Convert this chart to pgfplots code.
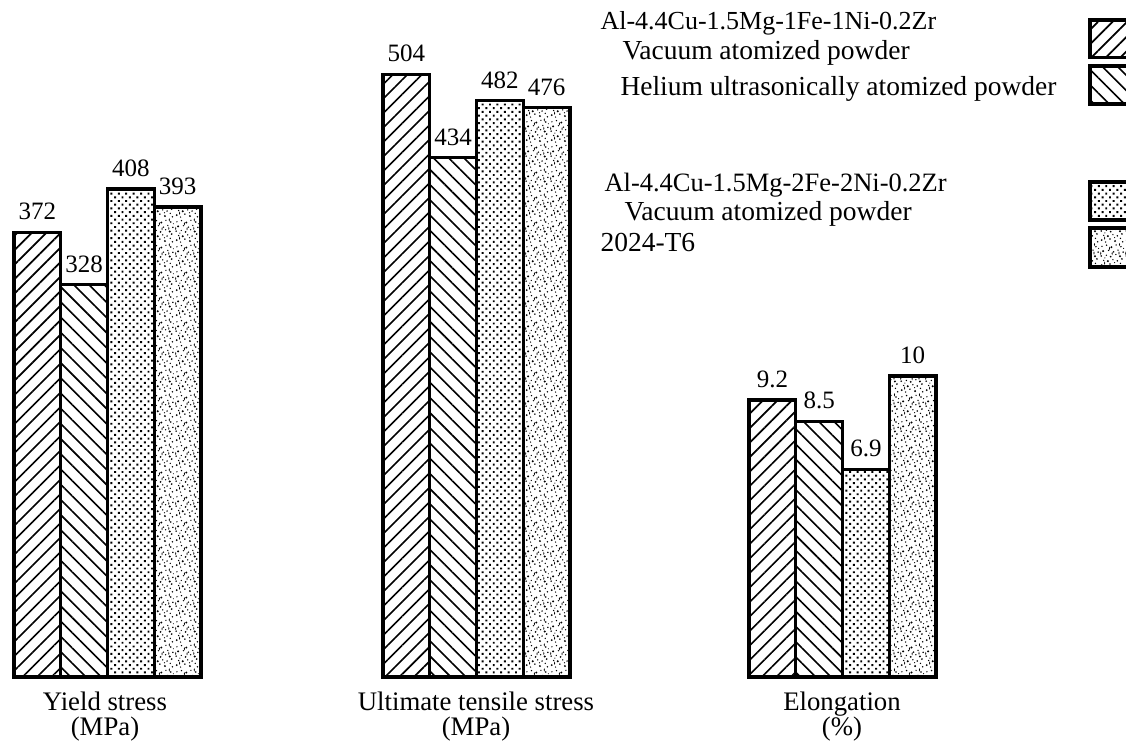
\documentclass[border=0pt]{standalone}
\usepackage{fontspec}
\setmainfont{Liberation Serif}
\usepackage{pgfplots}
\pgfplotsset{compat=1.18}
\usetikzlibrary{patterns,patterns.meta}

\pgfdeclarepatternformonly{stipple}{\pgfpointorigin}{\pgfqpoint{10pt}{10pt}}{\pgfqpoint{10pt}{10pt}}{%
  \pgfpathcircle{\pgfqpoint{0.7pt}{1.2pt}}{0.4pt}
  \pgfpathcircle{\pgfqpoint{2.3pt}{0.4pt}}{0.3pt}
  \pgfpathcircle{\pgfqpoint{4.1pt}{1.6pt}}{0.35pt}
  \pgfpathcircle{\pgfqpoint{6.2pt}{0.8pt}}{0.45pt}
  \pgfpathcircle{\pgfqpoint{8.4pt}{1.9pt}}{0.3pt}
  \pgfpathcircle{\pgfqpoint{9.3pt}{0.5pt}}{0.35pt}
  \pgfpathcircle{\pgfqpoint{1.5pt}{3.1pt}}{0.3pt}
  \pgfpathcircle{\pgfqpoint{3.2pt}{2.8pt}}{0.45pt}
  \pgfpathcircle{\pgfqpoint{5.3pt}{3.4pt}}{0.3pt}
  \pgfpathcircle{\pgfqpoint{7.1pt}{2.9pt}}{0.35pt}
  \pgfpathcircle{\pgfqpoint{9.0pt}{3.7pt}}{0.4pt}
  \pgfpathcircle{\pgfqpoint{0.5pt}{4.9pt}}{0.35pt}
  \pgfpathcircle{\pgfqpoint{2.6pt}{5.2pt}}{0.3pt}
  \pgfpathcircle{\pgfqpoint{4.4pt}{4.6pt}}{0.4pt}
  \pgfpathcircle{\pgfqpoint{6.5pt}{5.5pt}}{0.3pt}
  \pgfpathcircle{\pgfqpoint{8.2pt}{4.8pt}}{0.45pt}
  \pgfpathcircle{\pgfqpoint{1.3pt}{6.9pt}}{0.45pt}
  \pgfpathcircle{\pgfqpoint{3.5pt}{7.2pt}}{0.3pt}
  \pgfpathcircle{\pgfqpoint{5.6pt}{6.6pt}}{0.35pt}
  \pgfpathcircle{\pgfqpoint{7.4pt}{7.3pt}}{0.3pt}
  \pgfpathcircle{\pgfqpoint{9.5pt}{6.5pt}}{0.35pt}
  \pgfpathcircle{\pgfqpoint{0.8pt}{8.8pt}}{0.3pt}
  \pgfpathcircle{\pgfqpoint{2.7pt}{9.3pt}}{0.35pt}
  \pgfpathcircle{\pgfqpoint{4.7pt}{8.5pt}}{0.45pt}
  \pgfpathcircle{\pgfqpoint{6.6pt}{9.4pt}}{0.3pt}
  \pgfpathcircle{\pgfqpoint{8.6pt}{8.7pt}}{0.35pt}
  \pgfpathcircle{\pgfqpoint{2.0pt}{4.1pt}}{0.25pt}
  \pgfpathcircle{\pgfqpoint{6.0pt}{2.2pt}}{0.25pt}
  \pgfpathcircle{\pgfqpoint{9.7pt}{8.0pt}}{0.25pt}
  \pgfpathellipse{\pgfqpoint{1.9pt}{2.0pt}}{\pgfqpoint{0.22pt}{0pt}}{\pgfqpoint{0pt}{0.7pt}}
  \pgfpathellipse{\pgfqpoint{5.0pt}{5.9pt}}{\pgfqpoint{0.22pt}{0pt}}{\pgfqpoint{0pt}{0.7pt}}
  \pgfpathellipse{\pgfqpoint{7.8pt}{6.1pt}}{\pgfqpoint{0.22pt}{0pt}}{\pgfqpoint{0pt}{0.7pt}}
  \pgfpathellipse{\pgfqpoint{3.9pt}{8.0pt}}{\pgfqpoint{0.22pt}{0pt}}{\pgfqpoint{0pt}{0.7pt}}
  \pgfpathellipse{\pgfqpoint{8.0pt}{9.6pt}}{\pgfqpoint{0.22pt}{0pt}}{\pgfqpoint{0pt}{0.7pt}}
  \pgfpathellipse{\pgfqpoint{0.3pt}{6.0pt}}{\pgfqpoint{0.22pt}{0pt}}{\pgfqpoint{0pt}{0.7pt}}
  \pgfusepath{fill}
}

\tikzset{
  pA/.style={pattern={Lines[angle=45,distance=4.1pt,line width=0.65pt]},pattern color=black},
  pB/.style={pattern={Lines[angle=-45,distance=4.3pt,line width=0.65pt]},pattern color=black},
  pC/.style={pattern={Dots[angle=45,distance=2.1pt,radius=0.55pt]},pattern color=black},
  pD/.style={pattern=stipple,pattern color=black},
}

\pgfplotsset{
  base/.style={
    width=450.4pt, height=297.2pt, scale only axis,
    xmin=0, xmax=1126, hide axis, clip=false,
    point meta=explicit symbolic,
    nodes near coords,
    every node near coord/.append style={font=\fontsize{10}{12}\selectfont, yshift=2.2pt, inner sep=2pt},
  },
  barst/.style={ybar, bar width=46.75, bar shift=0pt, draw=black, line width=1.25pt},
}

\begin{document}
\begin{tikzpicture}[font=\fontsize{10}{12}\selectfont]
% MPa axis (1.196 px per MPa, baseline at pixel row 677)
\begin{axis}[base, ymin=-55.18, ymax=566.05]
\addplot[barst, pA] coordinates {(37.375,372)[372] (406.375,504)[504]};
\addplot[barst, pB] coordinates {(84.125,328)[328] (453.125,434)[434]};
\addplot[barst, pC] coordinates {(130.875,408)[408] (499.875,482)[482]};
\addplot[barst, pD] coordinates {(177.625,393)[393] (546.625,476)[476]};

\begin{scope}[font=\fontsize{10.7}{12}\selectfont]
\node[anchor=base] at (axis cs:105,-27.6) {Yield stress};
\node[anchor=base] at (axis cs:105,-48.5) {(MPa)};
\node[anchor=base] at (axis cs:476,-27.6) {Ultimate tensile stress};
\node[anchor=base] at (axis cs:476,-48.5) {(MPa)};
\node[anchor=base] at (axis cs:842,-27.6) {Elongation};
\node[anchor=base] at (axis cs:842,-48.5) {(\%)};
\end{scope}

\node[anchor=base west, inner sep=0pt, font=\fontsize{10.4}{12}\selectfont] at (axis cs:600,541.0) {Al-4.4Cu-1.5Mg-1Fe-1Ni-0.2Zr};
\node[anchor=base west, inner sep=0pt, font=\fontsize{11}{12}\selectfont] at (axis cs:622,515.9) {Vacuum atomized powder};
\node[anchor=base west, inner sep=0pt, font=\fontsize{11}{12}\selectfont] at (axis cs:620,486.6) {Helium ultrasonically atomized powder};
\node[anchor=base west, inner sep=0pt, font=\fontsize{10.6}{12}\selectfont] at (axis cs:604,406.0) {Al-4.4Cu-1.5Mg-2Fe-2Ni-0.2Zr};
\node[anchor=base west, inner sep=0pt, font=\fontsize{11}{12}\selectfont] at (axis cs:624,381.3) {Vacuum atomized powder};
\node[anchor=base west, inner sep=0pt, font=\fontsize{11}{12}\selectfont] at (axis cs:600,355.4) {2024-T6};

\draw[pA, line width=1.25pt] (axis cs:1090,517.6) rectangle (axis cs:1140,549.3);
\draw[pB, line width=1.25pt] (axis cs:1090,479.1) rectangle (axis cs:1140,510.9);
\draw[pC, line width=1.25pt] (axis cs:1090,382.1) rectangle (axis cs:1140,413.9);
\draw[pD, line width=1.25pt] (axis cs:1090,342.8) rectangle (axis cs:1140,375.4);

\coordinate (SW) at (rel axis cs:0,0);
\coordinate (NE) at (rel axis cs:1,1);
\end{axis}
% Elongation axis (30.1 px per %)
\begin{axis}[base, ymin=-2.193, ymax=22.49]
\addplot[barst, pA] coordinates {(772.375,9.2)[9.2]};
\addplot[barst, pB] coordinates {(819.125,8.5)[8.5]};
\addplot[barst, pC] coordinates {(865.875,6.9)[6.9]};
\addplot[barst, pD] coordinates {(912.625,10)[10]};
\end{axis}
\pgfresetboundingbox
\path (SW) rectangle (NE);
\end{tikzpicture}
\end{document}
